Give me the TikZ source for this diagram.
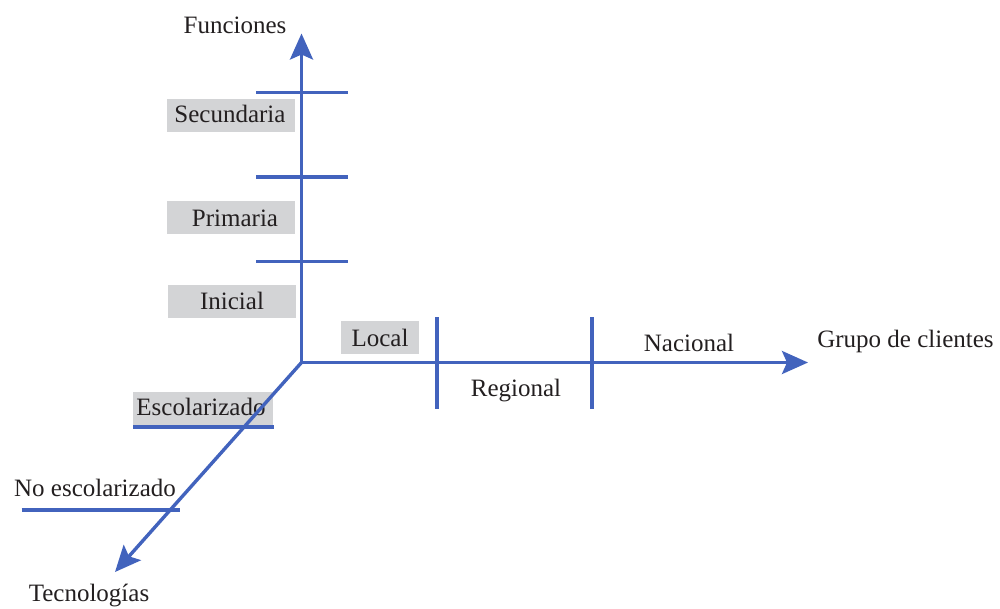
\documentclass[tikz,border=0pt]{standalone}
\usepackage{fontspec}
\setmainfont{Liberation Serif}
\usetikzlibrary{arrows.meta}
\definecolor{axisblue}{RGB}{66,99,189}
\definecolor{boxgray}{RGB}{211,212,214}
\definecolor{txt}{RGB}{35,31,32}
\begin{document}
\begin{tikzpicture}[x=1pt,y=-1pt,
  every node/.style={font=\fontsize{25}{29}\selectfont, text=txt, inner sep=0pt, text height=16pt, text depth=0pt},
  axisline/.style={draw=axisblue, line width=3.4pt},
  axisarrow/.style={axisline, -{Stealth[length=26pt, width=23pt, inset=5pt]}},
  tickline/.style={draw=axisblue, line width=3.4pt},
  graybox/.style={fill=boxgray, minimum height=33pt}]
\useasboundingbox (0,0) rectangle (1000,608);

% gray boxes
\node[graybox, minimum width=128pt] (secbox) at (231,115) {};
\node[graybox, minimum width=128pt] (pribox) at (231,217.5) {};
\node[graybox, minimum width=128pt] (inibox) at (232,301.5) {};
\node[graybox, minimum width=78pt] (locbox) at (380,337.5) {};
\node[graybox, minimum width=140pt, minimum height=35pt] (escbox) at (203,409.5) {};

% labels
\node (secundaria) at (230,114.5) {Secundaria};
\node (primaria) at (235,218) {Primaria};
\node (inicial) at (232,301.5) {Inicial};
\node (local) at (380,338) {Local};
\node (escolarizado) at (201,407.5) {Escolarizado};
\node (noesc) at (95,488.5) {No escolarizado};
\node (funciones) at (235,25) {Funciones};
\node (tecnologias) at (89,593.5) {Tecnologías};
\node (grupo) at (905.5,339.5) {Grupo de clientes};
\node (nacional) at (689,343.5) {Nacional};
\node (regional) at (516,388) {Regional};

% axes
\coordinate (O) at (301.5,362.5);
\coordinate (topTip) at (301.5,33.5);
\coordinate (rightTip) at (808,362.5);
\coordinate (diagTip) at (115,572);
\draw[axisarrow] (O) -- (topTip);
\draw[axisarrow] (O) -- (rightTip);
\draw[axisarrow] (O) -- (diagTip);

% ticks on vertical axis
\coordinate (t1a) at (256,92.5);  \coordinate (t1b) at (347.5,92.5);
\coordinate (t2a) at (256,177);   \coordinate (t2b) at (347.5,177);
\coordinate (t3a) at (256,261.5); \coordinate (t3b) at (347.5,261.5);
\draw[tickline] (t1a) -- (t1b);
\draw[tickline] (t2a) -- (t2b);
\draw[tickline] (t3a) -- (t3b);

% ticks on horizontal axis
\coordinate (h1a) at (437,317); \coordinate (h1b) at (437,408.5);
\coordinate (h2a) at (592,317); \coordinate (h2b) at (592,408.5);
\draw[tickline] (h1a) -- (h1b);
\draw[tickline] (h2a) -- (h2b);

% underlines on diagonal axis
\coordinate (u1a) at (133,427); \coordinate (u1b) at (273.5,427);
\coordinate (u2a) at (21.5,510); \coordinate (u2b) at (180,510);
\draw[tickline] (u1a) -- (u1b);
\draw[tickline] (u2a) -- (u2b);
\end{tikzpicture}
\end{document}
